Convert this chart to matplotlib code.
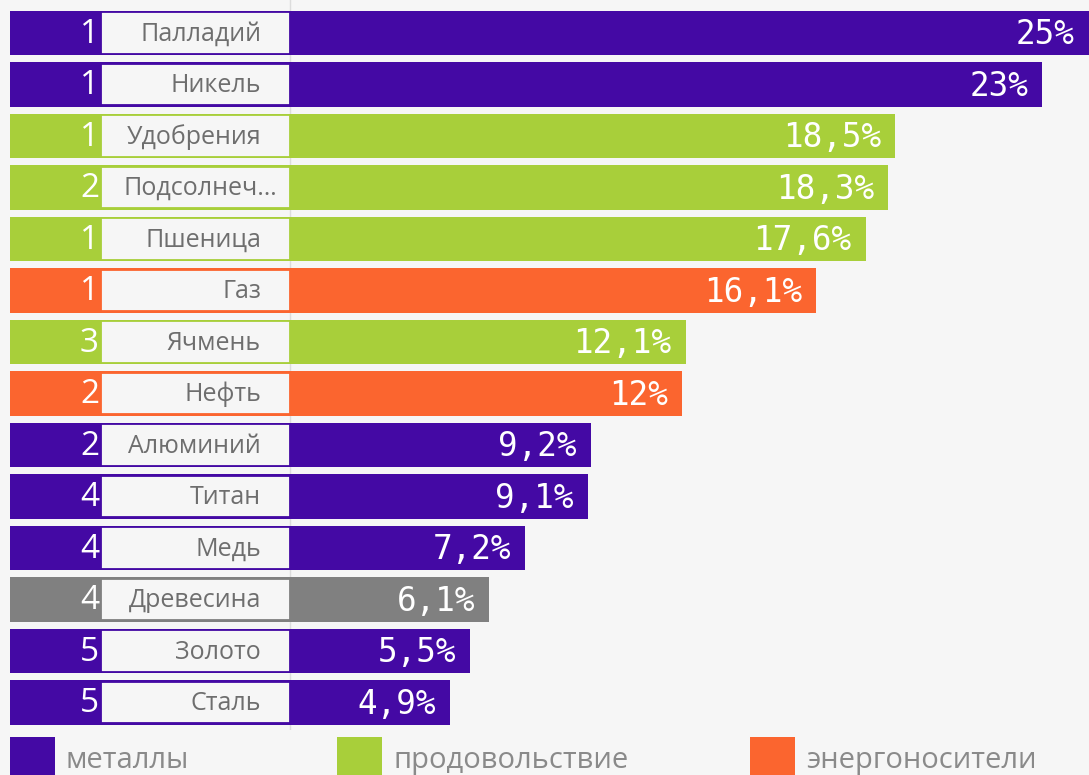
import matplotlib
matplotlib.use("Agg")
import matplotlib.pyplot as plt
from matplotlib.patches import Rectangle

# ---- data ----
names = ["Палладий", "Никель", "Удобрения", "Подсолнеч…", "Пшеница", "Газ", "Ячмень",
         "Нефть", "Алюминий", "Титан", "Медь", "Древесина", "Золото", "Сталь"]
ranks = [1, 1, 1, 2, 1, 1, 3, 2, 2, 4, 4, 4, 5, 5]
values = [25, 23, 18.5, 18.3, 17.6, 16.1, 12.1, 12, 9.2, 9.1, 7.2, 6.1, 5.5, 4.9]
groups = ["metals", "metals", "food", "food", "food", "energy", "food",
          "energy", "metals", "metals", "metals", "wood", "metals", "metals"]
legend_groups = ["metals", "food", "energy"]
legend_labels = ["металлы", "продовольствие", "энергоносители"]

colors = {"metals": "#4409a4", "food": "#a8cf3a", "energy": "#fb652f", "wood": "#808080"}
BG = "#f6f6f6"

W, H = 1089, 775
fig = plt.figure(figsize=(W / 100, H / 100), dpi=100, facecolor=BG)

PX = 32.7            # pixels per percent
X0 = 290             # pixel of zero
ROW0, ROWSTEP = 33, 51.5
AX_TOP, AX_BOT = 0, 730
ax = fig.add_axes([10 / W, (H - AX_BOT) / H, (W - 10) / W, (AX_BOT - AX_TOP) / H])
ax.set_facecolor(BG)
XMIN = (10 - X0) / PX
XMAX = (W - X0) / PX
ax.set_xlim(XMIN, XMAX)
ax.set_ylim((AX_BOT - ROW0) / ROWSTEP, (AX_TOP - ROW0) / ROWSTEP)
ax.axis("off")

BOX_L = (101 - X0) / PX
ax.axvline(0, color="#dcdcdc", lw=1, zorder=0)

for i, (n, r, v, g) in enumerate(zip(names, ranks, values, groups)):
    c = colors[g]
    ax.barh(i, v - XMIN, left=XMIN, height=0.855, color=c, zorder=1)
    ax.add_patch(Rectangle((BOX_L, i - 0.405), -BOX_L, 0.81, facecolor=BG,
                           edgecolor=c, lw=1.3, zorder=2))
    ax.text((99 - X0) / PX, i + 0.02, str(r), ha="right", va="center",
            color="white", fontsize=24, family="Open Sans", zorder=3)
    lx = (277 - X0) / PX if n.endswith("…") else (261 - X0) / PX
    ax.text(lx, i + 0.02, n, ha="right", va="center", color="#6e6e6e",
            fontsize=18, family="Open Sans", zorder=3)
    lab = (f"{v:g}".replace(".", ",")) + "%"
    ax.text(min(v, XMAX) - 14 / PX, i + 0.03, lab, ha="right", va="center",
            color="white", fontsize=23.5, family="DejaVu Sans Mono", zorder=3)

# legend
sq_x = [10, 337, 750]
for gx, g, lab in zip(sq_x, legend_groups, legend_labels):
    fig.patches.append(Rectangle((gx / W, 0), 45 / W, (H - 737) / H,
                                 transform=fig.transFigure, facecolor=colors[g],
                                 edgecolor="none"))
    fig.text((gx + 56) / W, (H - 768) / H, lab, ha="left", va="baseline",
             color="#8a8a8a", fontsize=21, family="Open Sans")

fig.savefig("out.png", dpi=100, facecolor=BG)
